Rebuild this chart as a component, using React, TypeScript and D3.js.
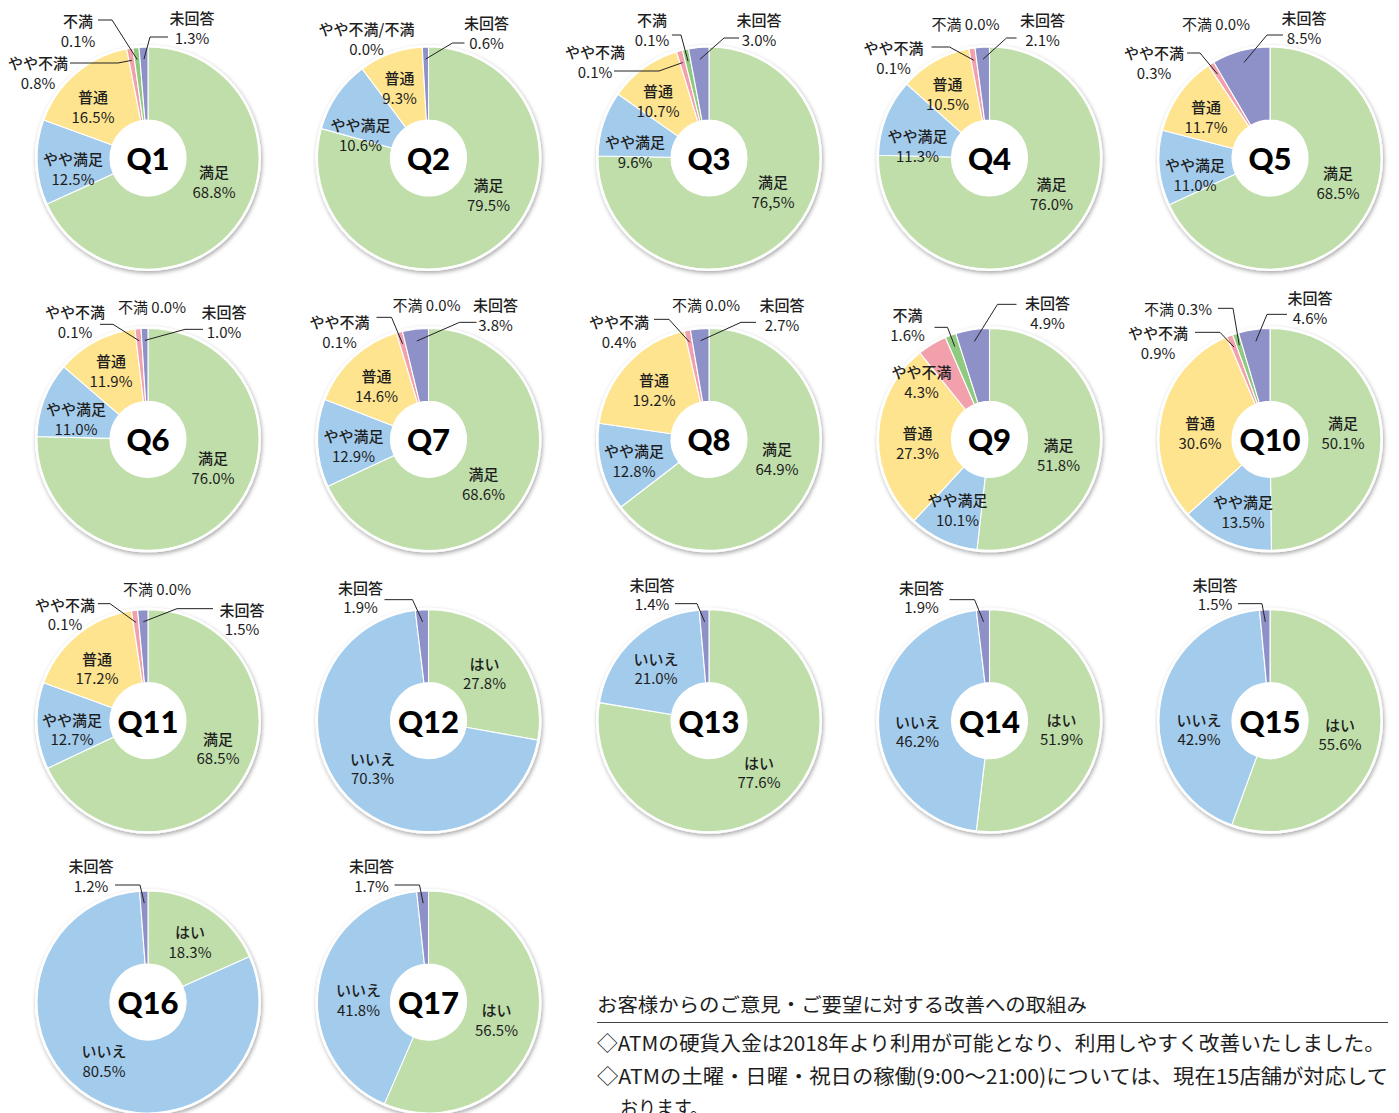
import React from "react";
import * as d3 from "d3";

// ---------- DATA ----------
const satisfactionCategories = ["満足", "やや満足", "普通", "やや不満", "不満", "未回答"];
const yesNoCategories = ["はい", "いいえ", "未回答"];

const satisfactionQuestions = ["Q1", "Q2", "Q3", "Q4", "Q5", "Q6", "Q7", "Q8", "Q9", "Q10", "Q11"];
const satisfactionValues = [
  [68.8, 12.5, 16.5, 0.8, 0.1, 1.3],
  [79.5, 10.6, 9.3, 0.0, 0.0, 0.6],
  [76.5, 9.6, 10.7, 0.1, 0.1, 3.0],
  [76.0, 11.3, 10.5, 0.1, 0.0, 2.1],
  [68.5, 11.0, 11.7, 0.3, 0.0, 8.5],
  [76.0, 11.0, 11.9, 0.1, 0.0, 1.0],
  [68.6, 12.9, 14.6, 0.1, 0.0, 3.8],
  [64.9, 12.8, 19.2, 0.4, 0.0, 2.7],
  [51.8, 10.1, 27.3, 4.3, 1.6, 4.9],
  [50.1, 13.5, 30.6, 0.9, 0.3, 4.6],
  [68.5, 12.7, 17.2, 0.1, 0.0, 1.5],
];

const yesNoQuestions = ["Q12", "Q13", "Q14", "Q15", "Q16", "Q17"];
const yesNoValues = [
  [27.8, 70.3, 1.9],
  [77.6, 21.0, 1.4],
  [51.9, 46.2, 1.9],
  [55.6, 42.9, 1.5],
  [18.3, 80.5, 1.2],
  [56.5, 41.8, 1.7],
];

const noteTitle = "お客様からのご意見・ご要望に対する改善への取組み";
const noteLines = [
  "◇ATMの硬貨入金は2018年より利用が可能となり、利用しやすく改善いたしました。",
  "◇ATMの土曜・日曜・祝日の稼働(9:00〜21:00)については、現在15店舗が対応して",
  "おります。",
];

// ---------- STYLE / LAYOUT ----------
const satisfactionColors = ["#bfdeaa", "#a3cbec", "#fee48f", "#f2a1ac", "#8fca80", "#8e90c8"];
const yesNoColors = ["#bfdeaa", "#a3cbec", "#8e90c8"];

type LabelSpec = {
  i: number;
  dx: number;
  dy: number;
  inline?: boolean;
  name?: string;
  valueText?: string;
  leader?: [number, number][];
};

const labelLayouts: Record<string, LabelSpec[]> = {
  Q1: [
    { i: 0, dx: 66, dy: 13 },
    { i: 1, dx: -75, dy: 0 },
    { i: 2, dx: -55, dy: -62 },
    { i: 3, dx: -110, dy: -96, leader: [[-78, -95], [-30, -95]] },
    { i: 4, dx: -70, dy: -138, leader: [[-50, -138], [-36, -138]] },
    { i: 5, dx: 44, dy: -141, leader: [[20, -121], [2, -121]] },
  ],
  Q2: [
    { i: 0, dx: 60, dy: 26 },
    { i: 1, dx: -68, dy: -34 },
    { i: 2, dx: -29, dy: -81 },
    { i: 3, dx: -62, dy: -130, name: "やや不満/不満" },
    { i: 5, dx: 58, dy: -136, leader: [[36, -115], [24, -115]] },
  ],
  Q3: [
    { i: 0, dx: 64, dy: 23, valueText: "76,5%" },
    { i: 1, dx: -74, dy: -17 },
    { i: 2, dx: -51, dy: -68 },
    { i: 3, dx: -114, dy: -107, leader: [[-95, -87], [-50, -87]] },
    { i: 4, dx: -57, dy: -139, leader: [[-37, -123], [-28, -123]] },
    { i: 5, dx: 50, dy: -139, leader: [[30, -120], [15, -120]] },
  ],
  Q4: [
    { i: 0, dx: 62, dy: 25 },
    { i: 1, dx: -72, dy: -23 },
    { i: 2, dx: -42, dy: -75 },
    { i: 3, dx: -96, dy: -111, leader: [[-58, -111], [-40, -111]] },
    { i: 4, dx: -24, dy: -135, inline: true },
    { i: 5, dx: 53, dy: -139, leader: [[27, -120], [17, -120]] },
  ],
  Q5: [
    { i: 0, dx: 68, dy: 14 },
    { i: 1, dx: -75, dy: 6 },
    { i: 2, dx: -64, dy: -52 },
    { i: 3, dx: -116, dy: -106, leader: [[-83, -105], [-70, -105]] },
    { i: 4, dx: -54, dy: -135, inline: true },
    { i: 5, dx: 34, dy: -141, leader: [[13, -123], [-3, -123]] },
  ],
  Q6: [
    { i: 0, dx: 65, dy: 18 },
    { i: 1, dx: -72, dy: -31 },
    { i: 2, dx: -37, dy: -79 },
    { i: 3, dx: -73, dy: -128, leader: [[-48, -115], [-35, -115]] },
    { i: 4, dx: 4, dy: -133, inline: true },
    { i: 5, dx: 76, dy: -128, leader: [[55, -110], [37, -110]] },
  ],
  Q7: [
    { i: 0, dx: 55, dy: 34 },
    { i: 1, dx: -75, dy: -4 },
    { i: 2, dx: -52, dy: -64 },
    { i: 3, dx: -89, dy: -118, leader: [[-52, -122], [-37, -122]] },
    { i: 4, dx: -2, dy: -135, inline: true },
    { i: 5, dx: 67, dy: -135, leader: [[48, -117], [31, -117]] },
  ],
  Q8: [
    { i: 0, dx: 68, dy: 9 },
    { i: 1, dx: -75, dy: 11 },
    { i: 2, dx: -55, dy: -60 },
    { i: 3, dx: -90, dy: -118, leader: [[-55, -120], [-40, -120]] },
    { i: 4, dx: -3, dy: -135, inline: true },
    { i: 5, dx: 73, dy: -135, leader: [[47, -117], [32, -117]] },
  ],
  Q9: [
    { i: 0, dx: 69, dy: 5 },
    { i: 1, dx: -32, dy: 60 },
    { i: 2, dx: -72, dy: -7 },
    { i: 3, dx: -68, dy: -68 },
    { i: 4, dx: -82, dy: -125, leader: [[-55, -112], [-42, -112]] },
    { i: 5, dx: 58, dy: -137, leader: [[27, -135], [8, -135]] },
  ],
  Q10: [
    { i: 0, dx: 73, dy: -17 },
    { i: 1, dx: -27, dy: 62 },
    { i: 2, dx: -70, dy: -17 },
    { i: 3, dx: -112, dy: -107, leader: [[-75, -107], [-50, -107]] },
    { i: 4, dx: -92, dy: -131, inline: true, leader: [[-52, -131], [-37, -131]] },
    { i: 5, dx: 40, dy: -142, leader: [[17, -125], [-3, -125]] },
  ],
  Q11: [
    { i: 0, dx: 70, dy: 17 },
    { i: 1, dx: -76, dy: -2 },
    { i: 2, dx: -51, dy: -63 },
    { i: 3, dx: -83, dy: -117, leader: [[-50, -117], [-38, -117]] },
    { i: 4, dx: 9, dy: -132, inline: true },
    { i: 5, dx: 94, dy: -112, leader: [[65, -112], [29, -112]] },
  ],
  Q12: [
    { i: 0, dx: 56, dy: -58 },
    { i: 1, dx: -56, dy: 37 },
    { i: 2, dx: -68, dy: -134, leader: [[-44, -121], [-16, -121]] },
  ],
  Q13: [
    { i: 0, dx: 50, dy: 41 },
    { i: 1, dx: -53, dy: -63 },
    { i: 2, dx: -57, dy: -137, leader: [[-34, -117], [-12, -117]] },
  ],
  Q14: [
    { i: 0, dx: 72, dy: -2 },
    { i: 1, dx: -72, dy: 0 },
    { i: 2, dx: -68, dy: -134, leader: [[-40, -121], [-15, -121]] },
  ],
  Q15: [
    { i: 0, dx: 70, dy: 3 },
    { i: 1, dx: -71, dy: -2 },
    { i: 2, dx: -55, dy: -137, leader: [[-32, -117], [-8, -117]] },
  ],
  Q16: [
    { i: 0, dx: 42, dy: -71 },
    { i: 1, dx: -44, dy: 48 },
    { i: 2, dx: -57, dy: -137, leader: [[-33, -117], [-8, -117]] },
  ],
  Q17: [
    { i: 0, dx: 68, dy: 7 },
    { i: 1, dx: -70, dy: -13 },
    { i: 2, dx: -57, dy: -137, leader: [[-34, -117], [-9, -117]] },
  ],
};

const W = 1399;
const H = 1113;
const R = 111;
const R_IN = 38;
const JP = "'Noto Sans CJK JP', 'Noto Sans', sans-serif";
const TEXT = "#1e1e1e";

const colX = d3.scaleLinear().domain([0, 4]).range([148, 1270]);
const rowY = d3.scaleLinear().domain([0, 3]).range([158, 1002]);
const fmt = (v: number) => d3.format(".1f")(v) + "%";

// very small non-zero shares get a minimum visible sliver, as in the reference
const pie = d3
  .pie<number>()
  .sort(null)
  .value((v) => (v > 0 ? Math.max(v, 0.9) : 0));
const arc = d3.arc<d3.PieArcDatum<number>>().innerRadius(R_IN).outerRadius(R);

type Chart = { q: string; values: number[]; cats: string[]; colors: string[] };

const charts: Chart[] = [
  ...satisfactionQuestions.map((q, k) => ({
    q,
    values: satisfactionValues[k],
    cats: satisfactionCategories,
    colors: satisfactionColors,
  })),
  ...yesNoQuestions.map((q, k) => ({
    q,
    values: yesNoValues[k],
    cats: yesNoCategories,
    colors: yesNoColors,
  })),
];

function Donut({ chart, idx }: { chart: Chart; idx: number }) {
  const cx = colX(idx % 5);
  const cy = rowY(Math.floor(idx / 5));
  const arcs = pie(chart.values);
  const layout = labelLayouts[chart.q] || [];
  const line = d3.line();
  return (
    <g>
      <circle cx={cx} cy={cy} r={R + 2} fill="#fff" filter="url(#shadow)" />
      <g transform={`translate(${cx},${cy})`}>
        {arcs.map((a, i) =>
          a.endAngle - a.startAngle > 0 ? (
            <path
              key={i}
              d={arc(a) || ""}
              fill={chart.colors[i]}
              stroke="#fff"
              strokeWidth={1.1}
              strokeLinejoin="round"
            />
          ) : null
        )}
        <circle r={R_IN} fill="#fff" />
        <text
          x={0}
          y={0}
          textAnchor="middle"
          dominantBaseline="central"
          fontFamily="Lato, 'Noto Sans', sans-serif"
          fontWeight={900}
          fontSize={31}
          fill="#000"
        >
          {chart.q}
        </text>
        {layout.map((s, k) => {
          const a = arcs[s.i];
          const name = s.name ?? chart.cats[s.i];
          const val = s.valueText ?? fmt(chart.values[s.i]);
          let leaderPath: string | null = null;
          if (s.leader) {
            const mid = (a.startAngle + a.endAngle) / 2;
            const rr = R - 12;
            const end: [number, number] = [rr * Math.sin(mid), -rr * Math.cos(mid)];
            leaderPath = line([...s.leader, end]);
          }
          return (
            <g key={k}>
              {leaderPath && (
                <path d={leaderPath} fill="none" stroke="#222" strokeWidth={1} />
              )}
              {s.inline ? (
                <text
                  x={s.dx}
                  y={s.dy}
                  textAnchor="middle"
                  dominantBaseline="central"
                  fontFamily={JP}
                  fontSize={15}
                  fill={TEXT}
                >
                  {name + " " + val}
                </text>
              ) : (
                <text
                  textAnchor="middle"
                  dominantBaseline="central"
                  fontFamily={JP}
                  fontSize={15}
                  fill={TEXT}
                >
                  <tspan x={s.dx} y={s.dy} fontWeight={500}>
                    {name}
                  </tspan>
                  <tspan x={s.dx} y={s.dy + 19.5}>
                    {val}
                  </tspan>
                </text>
              )}
            </g>
          );
        })}
      </g>
    </g>
  );
}

export default function App() {
  return (
    <svg
      width={W}
      height={H}
      viewBox={`0 0 ${W} ${H}`}
      style={{ position: "absolute", left: 0, top: 0, display: "block", background: "#fff" }}
    >
      <defs>
        <filter id="shadow" x="-20%" y="-20%" width="140%" height="140%">
          <feDropShadow dx={1} dy={2} stdDeviation={2.2} floodColor="#000" floodOpacity={0.35} />
        </filter>
      </defs>
      <rect width={W} height={H} fill="#fff" />
      {charts.map((c, i) => (
        <Donut key={c.q} chart={c} idx={i} />
      ))}
      <g fontFamily={JP} fill={TEXT}>
        <text x={597} y={1012} fontSize={19.5} textLength={490} lengthAdjust="spacingAndGlyphs">
          {noteTitle}
        </text>
        <line x1={597} x2={1388} y1={1022.5} y2={1022.5} stroke="#444" strokeWidth={1} />
        <text x={597} y={1051} fontSize={20.5} textLength={788} lengthAdjust="spacingAndGlyphs">
          {noteLines[0]}
        </text>
        <text x={597} y={1084} fontSize={20.5} textLength={791} lengthAdjust="spacingAndGlyphs">
          {noteLines[1]}
        </text>
        <text x={620} y={1116} fontSize={20.5} textLength={88} lengthAdjust="spacingAndGlyphs">
          {noteLines[2]}
        </text>
      </g>
    </svg>
  );
}
